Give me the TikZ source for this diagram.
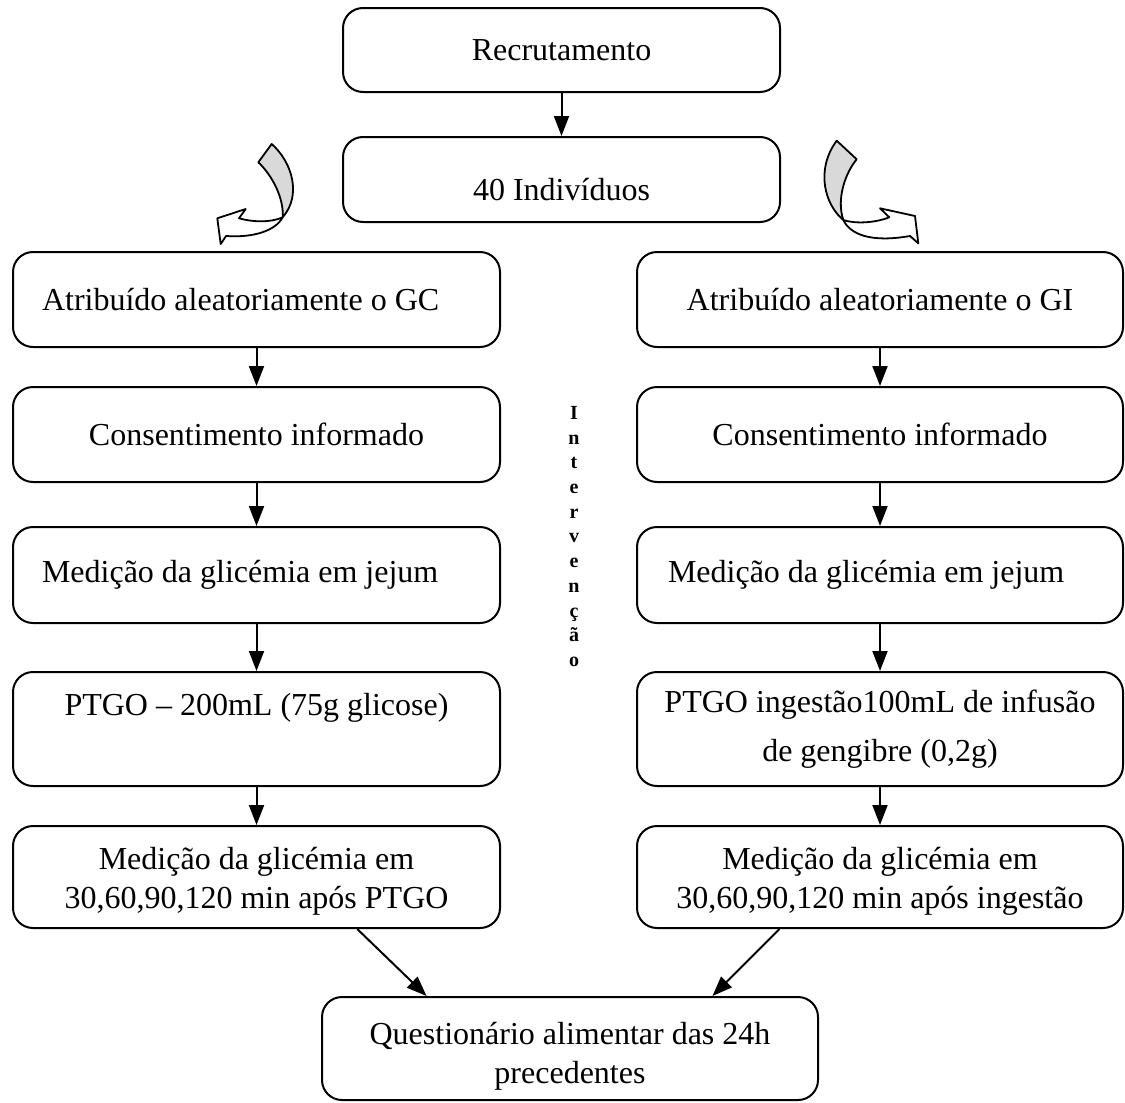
\documentclass[tikz,border=0pt]{standalone}
\usepackage{fontspec}
\setmainfont{Liberation Serif}
\usetikzlibrary{arrows.meta,calc}
\definecolor{shade}{RGB}{217,217,217}
\begin{document}
\begin{tikzpicture}[x=0.5pt,y=-0.5pt,
  box/.style={draw, line width=1pt, rounded corners=10pt, inner sep=0pt, align=center,
    font=\fontsize{16}{19.5}\selectfont},
  arr/.style={line width=1pt, -{Triangle[length=10pt,width=7.5pt]}},
  curly/.style={draw, line width=0.9pt, line join=round}]
\useasboundingbox (0,0) rectangle (1125,1103);

% top
\node[box, minimum width=218.5pt, minimum height=42pt] (rec) at (561.5,50) {Recrutamento};
\node[box, minimum width=218.5pt, minimum height=42.5pt] (ind) at (561.5,179.5)
  {\raisebox{-5pt}[\height][\depth]{40 Indivíduos}};

% left column
\node[box, minimum width=243.5pt, minimum height=47.5pt] (l1) at (256.5,299.5)
  {\makebox[214.5pt][l]{Atribuído aleatoriamente o GC}};
\node[box, minimum width=243.5pt, minimum height=47.5pt] (l2) at (256.5,434.5) {Consentimento informado};
\node[box, minimum width=243.5pt, minimum height=48pt] (l3) at (256.5,575)
  {\makebox[214.5pt][l]{Medição da glicémia em jejum}};
\node[box, minimum width=243.5pt, minimum height=57pt, font=\fontsize{16}{24.5}\selectfont] (l4) at (256.5,729)
  {PTGO – 200mL (75g glicose)\\\mbox{}};
\node[box, minimum width=243.5pt, minimum height=51pt] (l5) at (256.5,877)
  {\raisebox{-2pt}[\height][\depth]{\begin{tabular}{@{}c@{}}Medição da glicémia em\\30,60,90,120 min após PTGO\end{tabular}}};

% right column
\node[box, minimum width=243pt, minimum height=47.5pt] (r1) at (880,299.5) {Atribuído aleatoriamente o GI};
\node[box, minimum width=243pt, minimum height=47.5pt] (r2) at (880,434.5) {Consentimento informado};
\node[box, minimum width=243pt, minimum height=48pt] (r3) at (880,575)
  {\makebox[212pt][l]{Medição da glicémia em jejum}};
\node[box, minimum width=243pt, minimum height=57pt, font=\fontsize{16}{24.5}\selectfont] (r4) at (880,729)
  {PTGO ingestão100mL de infusão\\de gengibre (0,2g)};
\node[box, minimum width=243pt, minimum height=51pt] (r5) at (880,877)
  {\raisebox{-2pt}[\height][\depth]{\begin{tabular}{@{}c@{}}Medição da glicémia em\\30,60,90,120 min após ingestão\end{tabular}}};

% bottom
\node[box, minimum width=248pt, minimum height=51.5pt] (fin) at (570,1048.5)
  {\raisebox{-4pt}[\height][\depth]{\begin{tabular}{@{}c@{}}Questionário alimentar das 24h\\precedentes\end{tabular}}};

% vertical label
\node[inner sep=0pt, align=center, font=\bfseries\fontsize{10}{12.35}\selectfont] (interv) at (574,536.5)
  {I\\n\\t\\e\\r\\v\\e\\n\\ç\\ã\\o};

% arrows
\draw[arr] (rec.south) -- (ind.north);
\draw[arr] (l1.south) -- (l2.north);
\draw[arr] (l2.south) -- (l3.north);
\draw[arr] (l3.south) -- (l4.north);
\draw[arr] (l4.south) -- (l5.north);
\draw[arr] (r1.south) -- (r2.north);
\draw[arr] (r2.south) -- (r3.north);
\draw[arr] (r3.south) -- (r4.north);
\draw[arr] (r4.south) -- (r5.north);
\draw[arr] ($(l5.south west)!0.706!(l5.south east)$) -- ($(fin.north west)!0.212!(fin.north east)$);
\draw[arr] ($(r5.south west)!0.294!(r5.south east)$) -- ($(fin.north west)!0.786!(fin.north east)$);

% left curved arrow
\draw[curly, fill=shade] (258.3,162.3) -- (271.7,144)
  .. controls (292,162) and (302,195) .. (282.7,217.3)
  .. controls (284,198) and (272,175) .. cycle;
\draw[curly, fill=white] (282.7,217.3)
  .. controls (276,230) and (255,238) .. (226,236)
  -- (220.7,244) -- (217.3,218.3) -- (245.7,209) -- (239,218.3)
  .. controls (252,222) and (270,223) .. cycle;

% right curved arrow
\draw[curly, fill=shade] (836.7,140.7) -- (856.7,159.3)
  .. controls (846,172) and (836,198) .. (843.3,220)
  .. controls (825,205) and (815,170) .. cycle;
\draw[curly, fill=white] (843.3,220)
  .. controls (850,234) and (870,243) .. (910,236)
  -- (918.3,243.3) -- (915,216) -- (880,208.3) -- (889.3,217.3)
  .. controls (875,223) and (855,224) .. cycle;
\end{tikzpicture}
\end{document}
